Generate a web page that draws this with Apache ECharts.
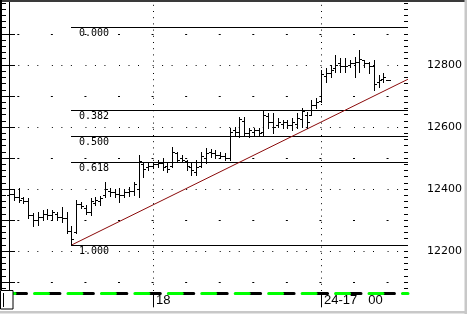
<!DOCTYPE html>
<html><head><meta charset="utf-8">
<script src="https://cdn.jsdelivr.net/npm/echarts@6/dist/echarts.min.js"></script>
<style>html,body{margin:0;padding:0;background:#fff;}#c{width:469px;height:314px;}</style>
</head><body><div id="c"></div>
<script>
// ---- data (bar index 0..79) ----
const opens = [12380,12385,12375,12370,12360,12315,12300,12310,12320,12315,
12320,12310,12305,12265,12260,12350,12340,12325,12355,12360,
12380,12395,12390,12385,12380,12390,12395,12400,12480,12470,
12475,12480,12485,12475,12475,12515,12500,12490,12470,12455,
12475,12500,12520,12515,12510,12505,12500,12590,12585,12620,
12580,12585,12590,12585,12635,12615,12605,12610,12615,12605,
12610,12625,12640,12640,12670,12685,12765,12775,12790,12805,
12795,12800,12805,12810,12815,12805,12795,12745,12755,12752];
const highs = [12391,12397,12402,12375,12370,12322,12327,12332,12335,12332,
12327,12343,12327,12281,12365,12359,12348,12370,12373,12377,
12424,12402,12399,12402,12399,12407,12424,12510,12484,12484,
12488,12494,12499,12488,12536,12520,12510,12494,12483,12494,
12520,12531,12529,12526,12520,12515,12596,12601,12633,12633,
12596,12596,12596,12655,12644,12644,12628,12623,12623,12628,
12644,12660,12649,12687,12693,12784,12789,12800,12832,12822,
12822,12816,12826,12848,12816,12810,12816,12768,12774,12752];
const lows = [12370,12365,12359,12354,12305,12281,12284,12300,12303,12300,
12300,12295,12257,12219,12257,12338,12319,12316,12348,12348,
12375,12377,12373,12359,12375,12377,12381,12375,12439,12461,
12467,12472,12461,12456,12472,12488,12488,12461,12445,12445,
12472,12483,12504,12499,12499,12494,12494,12574,12569,12574,
12569,12574,12574,12574,12596,12580,12601,12596,12596,12590,
12596,12601,12596,12639,12660,12682,12745,12761,12777,12777,
12777,12793,12761,12777,12793,12774,12719,12729,12745,12752];
const closes = [12385,12375,12365,12360,12315,12300,12310,12320,12315,12325,
12310,12305,12265,12240,12350,12345,12325,12360,12365,12370,
12400,12390,12385,12380,12390,12395,12415,12490,12465,12475,
12480,12485,12470,12465,12520,12495,12495,12475,12460,12470,
12505,12515,12515,12510,12505,12500,12585,12585,12625,12580,
12590,12590,12580,12640,12615,12600,12615,12615,12605,12615,
12630,12650,12615,12670,12680,12770,12775,12785,12800,12795,
12795,12805,12810,12820,12805,12795,12740,12750,12760,12752];

const fibHigh = 12922, fibLow = 12219, fibStartBar = 13;
const fibRatios = [0, 0.382, 0.5, 0.618, 1];
const fibLabels = ['0.000', '0.382', '0.500', '0.618', '1.000'];
const trendStartBar = 13, trendStartValue = 12219, trendEndValue = 12754;

const yLabelValues = [12200, 12400, 12600, 12800];
const yMajorTicks = [12100, 12200, 12300, 12400, 12500, 12600, 12700, 12800, 12900];
const yMinorTicks = [];
for (let v = 12080; v <= 13000; v += 20) yMinorTicks.push(v);
const gridDenseRows = [12200, 12400, 12600, 12800];
const gridSparseRows = [12100, 12300, 12500, 12700, 12900];
const xLabelBars = [30, 65];
const xLabelTexts = ['18', '24-17 00'];

const X_MIN = -1.46, X_MAX = 83.12, Y_MIN = 12071, Y_MAX = 13003;

// ---- build ----
const ohlc = opens.map((o, i) => [i, o, highs[i], lows[i], closes[i]]);
const fibData = fibRatios.map((r, k) => [fibStartBar, fibHigh - r * (fibHigh - fibLow), k]);

const chart = echarts.init(document.getElementById('c'), null, {renderer: 'canvas'});

const markData = [];
gridDenseRows.forEach(v => markData.push({yAxis: v, lineStyle: {color: '#000', width: 1, type: [1, 8.5, 1, 8.5, 1, 13.57], dashOffset: 17.27}}));
gridSparseRows.forEach(v => markData.push({yAxis: v, lineStyle: {color: '#000', width: 1, type: [2, 31.57], dashOffset: 18.27}}));
xLabelBars.forEach(b => markData.push({xAxis: b, lineStyle: {color: '#000', width: 1, type: [1, 5.2], dashOffset: 0}}));

const yBase = {type: 'value', min: Y_MIN, max: Y_MAX, splitLine: {show: false}, axisLine: {show: false}, axisLabel: {show: false}, axisTick: {show: false}};

function xLabelFormatter(v) {
  const k = xLabelBars.indexOf(Math.round(v));
  if (k < 0) return '';
  const parts = xLabelTexts[k].split(' ');
  return parts.map(p => '{t|' + p + '}').join('{s| }');
}

const option = {
  animation: false,
  backgroundColor: '#fff',
  grid: {left: 2, right: 61, top: 2, bottom: 23, containLabel: false},
  xAxis: [
    {type: 'value', min: X_MIN, max: X_MAX, offset: 2.3, splitLine: {show: false},
     axisLine: {show: true, lineStyle: {color: '#000', width: 3, type: [11.5, 21.95], dashOffset: 20.45}},
     axisTick: {show: true, customValues: xLabelBars, length: 14, lineStyle: {color: '#000', width: 1}},
     axisLabel: {show: true, customValues: xLabelBars, margin: 1, align: 'left', padding: [0, 0, 0, 3],
       color: '#000', fontFamily: 'Liberation Sans', fontSize: 13,
       rich: {t: {color: '#000', fontFamily: 'Liberation Sans', fontSize: 13},
              s: {width: 11, fontFamily: 'Liberation Sans', fontSize: 13}},
       formatter: xLabelFormatter}},
    {type: 'value', min: X_MIN, max: X_MAX, offset: 2.3, position: 'bottom', splitLine: {show: false},
     axisLine: {show: true, lineStyle: {color: '#00ff00', width: 3, type: [14, 19.45], dashOffset: 0.95}},
     axisTick: {show: false}, axisLabel: {show: false}}
  ],
  yAxis: [
    Object.assign({}, yBase, {position: 'left', axisTick: {show: true, inside: true, length: 6, customValues: yMajorTicks, lineStyle: {color: '#000'}}}),
    Object.assign({}, yBase, {position: 'right', axisLine: {show: true, lineStyle: {color: '#000', width: 1}},
      axisTick: {show: true, inside: true, length: 6, customValues: yMajorTicks, lineStyle: {color: '#000'}},
      axisLabel: {show: true, customValues: yLabelValues, margin: 19, color: '#000', fontFamily: 'DejaVu Sans', fontSize: 11,
        formatter: v => String(v)}}),
    Object.assign({}, yBase, {position: 'left', axisTick: {show: true, inside: true, length: 4, customValues: yMinorTicks, lineStyle: {color: '#000'}}}),
    Object.assign({}, yBase, {position: 'right', axisTick: {show: true, inside: true, length: 4, customValues: yMinorTicks, lineStyle: {color: '#000'}}})
  ],
  series: [
    {type: 'line', data: [], xAxisIndex: 0, yAxisIndex: 0, z: 1, silent: true,
     markLine: {silent: true, symbol: 'none', label: {show: false}, animation: false, data: markData}},
    {type: 'custom', xAxisIndex: 0, yAxisIndex: 0, z: 3, data: fibData, clip: false,
     renderItem: (params, api) => {
       const v = api.value(1);
       const p0 = api.coord([api.value(0), v]);
       const p1 = api.coord([X_MAX, v]);
       const y = Math.round(p0[1]) + 0.5;
       return {type: 'group', children: [
         {type: 'line', shape: {x1: Math.round(p0[0]), y1: y, x2: p1[0], y2: y}, style: {stroke: '#000', lineWidth: 1}},
         {type: 'text', x: Math.round(p0[0]) + 8, y: y + 0.5,
          style: {text: fibLabels[api.value(2)], fill: '#000', font: '10px "DejaVu Sans Mono"', align: 'left', verticalAlign: 'top'}}
       ]};
     }},
    {type: 'line', xAxisIndex: 0, yAxisIndex: 0, z: 4, symbol: 'none', silent: true,
     data: [[trendStartBar, trendStartValue], [X_MAX, trendEndValue]],
     lineStyle: {color: '#8b0a0a', width: 1}},
    {type: 'custom', xAxisIndex: 0, yAxisIndex: 0, z: 5, data: ohlc,
     encode: {x: 0, y: [1, 2, 3, 4]},
     renderItem: (params, api) => {
       const i = api.value(0);
       const pO = api.coord([i, api.value(1)]);
       const pH = api.coord([i, api.value(2)]);
       const pL = api.coord([i, api.value(3)]);
       const pC = api.coord([i, api.value(4)]);
       const x = Math.round(pH[0]) + 0.5;
       const st = {stroke: '#000', lineWidth: 1};
       const yo = Math.round(pO[1]) + 0.5, yc = Math.round(pC[1]) + 0.5;
       return {type: 'group', children: [
         {type: 'line', shape: {x1: x, y1: Math.round(pH[1]), x2: x, y2: Math.round(pL[1]) + 1}, style: st},
         {type: 'line', shape: {x1: x - 2.5, y1: yo, x2: x, y2: yo}, style: st},
         {type: 'line', shape: {x1: x, y1: yc, x2: x + 2.5, y2: yc}, style: st}
       ]};
     }}
  ],
  graphic: [
    {type: 'rect', z: 100, shape: {x: 0, y: 0, width: 466, height: 2}, style: {fill: '#3a3a3a'}},
    {type: 'rect', z: 100, shape: {x: 0, y: 0, width: 2, height: 290}, style: {fill: '#000'}},
    {type: 'rect', z: 100, shape: {x: 464.5, y: 0, width: 2.5, height: 314}, style: {fill: '#c8c8c8'}},
    {type: 'rect', z: 100, shape: {x: 0, y: 311, width: 467, height: 2.5}, style: {fill: '#c8c8c8'}},
    {type: 'rect', z: 100, shape: {x: 0.5, y: 290.5, width: 12.5, height: 18.5}, style: {fill: '#fff', stroke: '#000', lineWidth: 1}},
    {type: 'line', z: 101, shape: {x1: 3.5, y1: 293, x2: 3.5, y2: 307}, style: {stroke: '#000', lineWidth: 1}}
  ]
};
chart.setOption(option);
</script>
</body></html>
